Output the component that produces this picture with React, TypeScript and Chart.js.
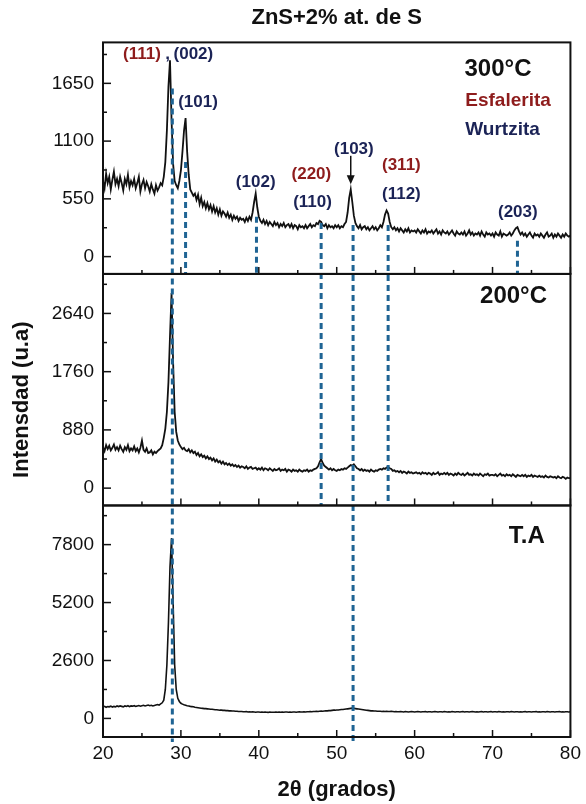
import React, { useEffect, useRef } from 'react';
import { Chart, registerables } from 'chart.js';

Chart.register(...registerables);

const FONT = "'Liberation Sans', Arial, sans-serif";
const RED = '#8e1c1c';
const NAVY = '#1b2356';
const DASH = '#1f6494';

// 2θ sampling grid (degrees)
const twoTheta: number[] = Array.from({ length: 301 }, (_, i) => Math.round((20 + i * 0.2) * 10) / 10);

// Intensity (u.a.) — 300°C
const int300: number[] = [
  720, 650, 790, 700, 760, 640, 730, 810, 690, 740,
  670, 760, 700, 630, 740, 690, 780, 660, 720, 680,
  740, 650, 700, 760, 620, 690, 730, 650, 710, 670,
  620, 690, 640, 600, 680, 630, 660, 700, 680, 760,
  900, 1200, 1620, 1870, 1300, 880, 720, 680, 650, 720,
  820, 1000, 1200, 1320, 1000, 780, 640, 610, 580, 600,
  540, 590, 500, 560, 480, 520, 460, 510, 450, 490,
  430, 480, 420, 460, 400, 450, 390, 430, 410, 380,
  420, 370, 400, 350, 390, 360, 380, 340, 370, 350,
  360, 330, 370, 340, 380, 350, 420, 520, 600, 470,
  380, 340, 320, 350, 310, 340, 300, 330, 310, 290,
  330, 300, 320, 280, 310, 290, 320, 280, 300, 310,
  280, 310, 270, 300, 290, 260, 300, 280, 290, 270,
  300, 270, 290, 310, 280, 300, 290, 320, 310, 340,
  330, 300, 290, 310, 270, 300, 280, 290, 270, 300,
  280, 300, 270, 290, 280, 310, 330, 420, 560, 640,
  520, 390, 320, 290, 270, 300, 260, 280, 290, 260,
  280, 250, 270, 290, 260, 280, 250, 270, 300, 280,
  330, 400, 440, 410, 330, 280, 260, 280, 250, 270,
  240, 270, 250, 230, 260, 240, 270, 230, 250, 240,
  250, 230, 260, 240, 220, 250, 230, 260, 220, 240,
  230, 250, 220, 240, 260, 220, 240, 210, 250, 230,
  220, 240, 210, 230, 250, 220, 200, 240, 220, 210,
  230, 210, 240, 200, 220, 250, 210, 230, 200, 220,
  210, 230, 200, 240, 210, 190, 230, 210, 220, 200,
  220, 190, 230, 210, 200, 240, 190, 220, 210, 200,
  210, 230, 200, 220, 250, 270, 280, 240, 210, 230,
  200, 220, 190, 210, 230, 200, 180, 220, 200, 210,
  190, 220, 200, 180, 210, 230, 190, 200, 220, 180,
  210, 190, 220, 200, 180, 210, 190, 220, 200, 190,
  200,
];

// Intensity (u.a.) — 200°C
const int200: number[] = [
  620, 560, 650, 590, 640, 570, 610, 660, 580, 620,
  570, 640, 590, 550, 620, 580, 650, 560, 600, 570,
  630, 560, 600, 540, 610, 720, 580, 550, 600, 530,
  540, 570, 510, 550, 530, 560, 580, 600, 650, 760,
  900, 1150, 1600, 2300, 2950, 1900, 1150, 850, 720, 660,
  620, 590, 610, 570, 560, 590, 540, 570, 530, 550,
  500, 530, 480, 510, 470, 490, 450, 480, 440, 460,
  420, 450, 400, 430, 390, 410, 370, 400, 360, 380,
  350, 370, 340, 360, 330, 350, 320, 340, 310, 330,
  320, 300, 330, 290, 310, 320, 290, 300, 310, 280,
  300, 280, 310, 270, 300, 290, 270, 300, 280, 260,
  290, 270, 280, 300, 260, 280, 270, 290, 250, 280,
  270, 250, 280, 260, 270, 250, 280, 260, 250, 270,
  260, 280, 250, 270, 260, 280, 290, 300, 330, 390,
  440, 380, 340, 320, 300, 280, 300, 270, 290, 270,
  260, 280, 270, 290, 280, 300, 290, 310, 330, 350,
  340, 360, 330, 300, 290, 270, 290, 260, 280, 260,
  270, 250, 280, 260, 250, 270, 260, 280, 290, 280,
  300, 290, 310, 320, 300, 290, 260, 270, 250, 260,
  240, 260, 230, 250, 240, 220, 250, 230, 240, 220,
  230, 240, 220, 230, 210, 240, 220, 230, 210, 230,
  220, 200, 230, 210, 220, 240, 200, 220, 210, 230,
  210, 230, 200, 220, 210, 190, 220, 200, 230, 210,
  200, 220, 190, 210, 230, 200, 210, 190, 220, 200,
  210, 190, 220, 200, 180, 210, 200, 220, 190, 200,
  200, 190, 210, 180, 200, 220, 190, 200, 180, 210,
  190, 200, 180, 210, 190, 170, 200, 190, 180, 200,
  180, 200, 170, 190, 180, 200, 170, 190, 180, 170,
  190, 170, 180, 160, 190, 170, 160, 180, 170, 160,
  170, 150, 180, 160, 150, 170, 160, 140, 160, 150,
  150,
];

// Intensity (u.a.) — T.A (room temperature)
const intTA: number[] = [
  510, 540, 500, 530, 520, 550, 510, 540, 520, 560,
  530, 560, 540, 520, 560, 540, 570, 530, 560, 550,
  570, 540, 560, 580, 550, 570, 590, 560, 580, 600,
  570, 590, 560, 580, 600, 620, 600, 650, 700, 820,
  1300, 2400, 4300, 6800, 8100, 5200, 2400, 1300, 900, 760,
  680, 640, 610, 590, 570, 560, 540, 530, 520, 500,
  490, 480, 470, 460, 450, 440, 440, 430, 420, 410,
  410, 400, 390, 390, 380, 370, 370, 360, 360, 350,
  350, 340, 340, 330, 330, 320, 320, 310, 310, 310,
  300, 300, 310, 290, 300, 290, 300, 290, 280, 290,
  290, 280, 290, 280, 290, 280, 270, 290, 280, 280,
  280, 290, 280, 290, 280, 290, 280, 290, 290, 280,
  290, 280, 290, 290, 280, 290, 300, 290, 290, 300,
  290, 300, 300, 310, 300, 310, 310, 320, 310, 320,
  330, 320, 330, 340, 340, 350, 350, 360, 370, 370,
  380, 380, 390, 400, 400, 410, 420, 430, 440, 450,
  460, 450, 440, 430, 420, 410, 400, 390, 380, 370,
  360, 350, 340, 340, 330, 330, 320, 320, 320, 310,
  320, 310, 320, 310, 310, 320, 310, 300, 310, 300,
  300, 310, 300, 290, 310, 300, 290, 300, 310, 300,
  290, 300, 310, 300, 290, 300, 300, 310, 290, 300,
  300, 290, 300, 310, 300, 290, 300, 300, 290, 310,
  300, 290, 300, 290, 310, 300, 290, 300, 300, 290,
  300, 310, 290, 300, 300, 290, 300, 310, 300, 290,
  300, 290, 300, 310, 290, 300, 300, 290, 300, 310,
  290, 300, 300, 290, 310, 300, 290, 300, 290, 300,
  300, 290, 310, 300, 290, 300, 300, 290, 300, 290,
  300, 310, 290, 300, 300, 290, 300, 300, 310, 290,
  300, 290, 300, 300, 290, 310, 300, 290, 300, 300,
  290, 300, 300, 310, 290, 300, 290, 300, 300, 290,
  300,
];

// Axis ticks and ranges
const xTicks = [20, 30, 40, 50, 60, 70, 80];
const ticks300 = [0, 550, 1100, 1650];
const ticks200 = [0, 880, 1760, 2640];
const ticksTA = [0, 2600, 5200, 7800];
const range300 = [-165, 2040];
const range200 = [-262, 3237];
const rangeTA = [-834, 9557];

// Reference (dashed) lines: 2θ, start intensity on the 300°C panel, last panel reached
const refPos = [28.9, 30.6, 39.7, 48.0, 52.1, 56.6, 73.2];
const refStart = [1600, 900, 380, 320, 300, 300, 150];
const refEnd = ['yTA', 'y300', 'y300', 'y200', 'yTA', 'y200', 'y300'];

// Miller-index labels (300°C panel coordinates)
const hklText = ['(111)', ',', '(002)', '(101)', '(102)', '(220)', '(110)', '(103)', '(311)', '(112)', '(203)'];
const hklX = [25.0, 28.3, 31.6, 32.2, 39.6, 46.75, 46.9, 52.2, 58.3, 58.3, 73.25];
const hklY = [1929, 1929, 1929, 1465, 712, 788, 515, 1024, 865, 598, 419];
const hklPhase = ['E', 'W', 'W', 'W', 'W', 'E', 'W', 'W', 'E', 'W', 'W'];

// Arrow for (103)
const arrowX = 51.8;
const arrowFrom = 960;
const arrowTo = 690;

// Panel names
const panelIds = ['y300', 'y200', 'yTA'];
const panelNames = ['300°C', '200°C', 'T.A'];
const panelNameX = [70.7, 72.7, 74.4];
const panelNameY = [1786, 2904, 8174];

// Phase legend (300°C panel)
const phaseNames = ['Esfalerita', 'Wurtzita'];
const phaseX = [66.5, 66.5];
const phaseY = [1484, 1208];

const decorPlugin = {
  id: 'xrdDecor',
  afterDatasetsDraw(chart: any) {
    const { ctx, scales } = chart;
    const x = scales.x;
    ctx.save();
    ctx.strokeStyle = DASH;
    ctx.lineWidth = 3;
    ctx.setLineDash([6, 4]);
    refPos.forEach((p, i) => {
      const px = x.getPixelForValue(p);
      const top = scales.y300.getPixelForValue(refStart[i]);
      const bottom = scales[refEnd[i]].bottom + (refEnd[i] === 'yTA' ? 5 : 0);
      ctx.beginPath();
      ctx.moveTo(px, top);
      ctx.lineTo(px, bottom);
      ctx.stroke();
    });
    ctx.restore();
  },
  afterDraw(chart: any) {
    const { ctx, chartArea, scales } = chart;
    const x = scales.x;
    ctx.save();
    ctx.strokeStyle = '#111';
    ctx.fillStyle = '#111';
    ctx.lineWidth = 2;
    ctx.setLineDash([]);
    const ranges: Record<string, number[]> = { y300: range300, y200: range200, yTA: rangeTA };
    const ticks: Record<string, number[]> = { y300: ticks300, y200: ticks200, yTA: ticksTA };
    panelIds.forEach((id) => {
      const s = scales[id];
      ctx.lineWidth = 2;
      ctx.strokeRect(chartArea.left, s.top, chartArea.right - chartArea.left, s.bottom - s.top);
      ctx.lineWidth = 1.5;
      const tk = ticks[id];
      const step = tk[1] - tk[0];
      const [lo, hi] = ranges[id];
      const all: Array<[number, number]> = [];
      tk.forEach((v) => all.push([v, 8]));
      for (let v = tk[0] - step / 2; v <= hi; v += step) if (v >= lo) all.push([v, 4]);
      all.forEach(([v, len]) => {
        const py = s.getPixelForValue(v);
        ctx.beginPath();
        ctx.moveTo(chartArea.left, py);
        ctx.lineTo(chartArea.left + len, py);
        ctx.stroke();
      });
      xTicks.forEach((v, i) => {
        const px = x.getPixelForValue(v);
        ctx.beginPath();
        ctx.moveTo(px, s.bottom);
        ctx.lineTo(px, s.bottom - 7);
        ctx.stroke();
        if (i < xTicks.length - 1) {
          const pm = x.getPixelForValue((v + xTicks[i + 1]) / 2);
          ctx.beginPath();
          ctx.moveTo(pm, s.bottom);
          ctx.lineTo(pm, s.bottom - 4);
          ctx.stroke();
        }
      });
    });

    ctx.textAlign = 'center';
    ctx.textBaseline = 'middle';
    ctx.font = `bold 17px ${FONT}`;
    hklText.forEach((t, i) => {
      ctx.fillStyle = hklPhase[i] === 'E' ? RED : NAVY;
      ctx.fillText(t, x.getPixelForValue(hklX[i]), scales.y300.getPixelForValue(hklY[i]));
    });

    const ax = x.getPixelForValue(arrowX);
    const a1 = scales.y300.getPixelForValue(arrowFrom);
    const a2 = scales.y300.getPixelForValue(arrowTo);
    ctx.strokeStyle = '#111';
    ctx.fillStyle = '#111';
    ctx.lineWidth = 1.5;
    ctx.beginPath();
    ctx.moveTo(ax, a1);
    ctx.lineTo(ax, a2 - 6);
    ctx.stroke();
    ctx.beginPath();
    ctx.moveTo(ax, a2);
    ctx.lineTo(ax - 4, a2 - 9);
    ctx.lineTo(ax + 4, a2 - 9);
    ctx.closePath();
    ctx.fill();

    ctx.fillStyle = '#111';
    ctx.font = `bold 24px ${FONT}`;
    panelIds.forEach((id, i) => {
      ctx.fillText(panelNames[i], x.getPixelForValue(panelNameX[i]), scales[id].getPixelForValue(panelNameY[i]));
    });

    ctx.textAlign = 'left';
    ctx.font = `bold 19px ${FONT}`;
    phaseNames.forEach((t, i) => {
      ctx.fillStyle = i === 0 ? RED : NAVY;
      ctx.fillText(t, x.getPixelForValue(phaseX[i]), scales.y300.getPixelForValue(phaseY[i]));
    });

    ctx.fillStyle = '#111';
    ctx.font = `bold 22px ${FONT}`;
    ctx.textAlign = 'center';
    ctx.translate(22, (chartArea.top + chartArea.bottom) / 2 + 10);
    ctx.rotate(-Math.PI / 2);
    ctx.fillText('Intensdad (u.a)', 0, 0);
    ctx.restore();
  },
};

function yScale(range: number[], ticks: number[]) {
  return {
    type: 'linear',
    position: 'left',
    stack: 'xrd',
    stackWeight: 1,
    min: range[0],
    max: range[1],
    grid: { display: false, drawTicks: false },
    border: { display: false },
    afterBuildTicks: (s: any) => {
      s.ticks = ticks.map((v) => ({ value: v }));
    },
    ticks: {
      font: { family: FONT, size: 19 },
      color: '#111',
      padding: 9,
      autoSkip: false,
      callback: (v: any) => String(v),
    },
    afterFit: (s: any) => {
      s.width = 103;
    },
  };
}

const mk = (vals: number[]) => twoTheta.map((t, i) => ({ x: t, y: vals[i] }));

export default function App() {
  const ref = useRef<HTMLCanvasElement>(null);
  useEffect(() => {
    document.body.style.margin = '0';
    const line = { borderColor: '#111', borderWidth: 1.8, pointRadius: 0, tension: 0 };
    const chart = new Chart(ref.current as HTMLCanvasElement, {
      type: 'line',
      data: {
        datasets: [
          { label: '300°C', data: mk(int300), yAxisID: 'y300', ...line },
          { label: '200°C', data: mk(int200), yAxisID: 'y200', ...line },
          { label: 'T.A', data: mk(intTA), yAxisID: 'yTA', ...line, borderWidth: 1.6 },
        ],
      },
      options: {
        responsive: false,
        animation: false,
        layout: { padding: { left: 0, right: 12, top: 0, bottom: 0 } },
        plugins: {
          legend: { display: false },
          tooltip: { enabled: false },
          title: {
            display: true,
            text: 'ZnS+2% at. de S',
            fullSize: false,
            color: '#111',
            font: { family: FONT, size: 22, weight: 'bold' },
            padding: { top: 5, bottom: 11 },
          },
        },
        scales: {
          x: {
            type: 'linear',
            position: 'bottom',
            min: 20,
            max: 80,
            grid: { display: false, drawTicks: false },
            border: { display: false },
            afterBuildTicks: (s: any) => {
              s.ticks = xTicks.map((v) => ({ value: v }));
            },
            ticks: {
              font: { family: FONT, size: 19 },
              color: '#111',
              padding: 5,
              maxRotation: 0,
              autoSkip: false,
              callback: (v: any) => String(v),
            },
            title: {
              display: true,
              text: '2θ (grados)',
              color: '#111',
              font: { family: FONT, size: 22, weight: 'bold' },
              padding: { top: 0, bottom: 1 },
            },
            afterFit: (s: any) => {
              s.height = 67;
            },
          },
          yTA: yScale(rangeTA, ticksTA),
          y200: yScale(range200, ticks200),
          y300: yScale(range300, ticks300),
        } as any,
      },
      plugins: [decorPlugin],
    });
    return () => chart.destroy();
  }, []);
  return (
    <div style={{ width: 586, height: 804 }}>
      <canvas ref={ref} width={586} height={804} style={{ display: 'block' }} />
    </div>
  );
}
